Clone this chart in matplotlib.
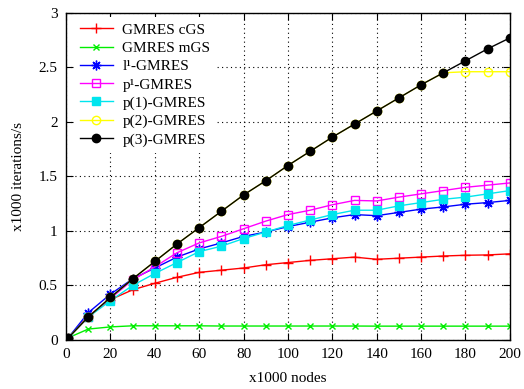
import matplotlib
matplotlib.use("Agg")
import matplotlib.pyplot as plt

nodes = [1, 10, 20, 30, 40, 50, 60, 70, 80, 90, 100, 110, 120, 130, 140, 150, 160, 170, 180, 190, 200]

gmres_cgs = [0.02, 0.22, 0.37, 0.46, 0.52, 0.575, 0.62, 0.64, 0.66, 0.69, 0.71, 0.73, 0.745, 0.76, 0.74, 0.75, 0.76, 0.77, 0.777, 0.78, 0.79]
gmres_mgs = [0.02, 0.10, 0.12, 0.13, 0.13, 0.13, 0.13, 0.128, 0.128, 0.128, 0.128, 0.128, 0.128, 0.128, 0.127, 0.127, 0.127, 0.127, 0.127, 0.127, 0.127]
l1_gmres = [0.02, 0.25, 0.42, 0.56, 0.66, 0.76, 0.835, 0.89, 0.95, 0.99, 1.04, 1.08, 1.12, 1.15, 1.14, 1.17, 1.20, 1.22, 1.245, 1.26, 1.28]
p1_gmres = [0.02, 0.21, 0.38, 0.55, 0.67, 0.80, 0.89, 0.95, 1.02, 1.09, 1.15, 1.19, 1.24, 1.28, 1.275, 1.31, 1.34, 1.37, 1.40, 1.42, 1.44]
p_1_gmres = [0.02, 0.21, 0.36, 0.50, 0.61, 0.71, 0.81, 0.86, 0.93, 0.99, 1.05, 1.10, 1.15, 1.19, 1.19, 1.23, 1.26, 1.29, 1.31, 1.34, 1.37]
p_2_gmres = [0.02, 0.21, 0.39, 0.56, 0.72, 0.88, 1.03, 1.18, 1.33, 1.46, 1.60, 1.73, 1.86, 1.98, 2.10, 2.22, 2.34, 2.45, 2.46, 2.46, 2.46]
p_3_gmres = [0.02, 0.21, 0.39, 0.56, 0.72, 0.88, 1.03, 1.18, 1.33, 1.46, 1.60, 1.73, 1.86, 1.98, 2.10, 2.22, 2.34, 2.45, 2.56, 2.67, 2.77]

labels = ["GMRES cGS", "GMRES mGS", "l\u00b9-GMRES", "p\u00b9-GMRES", "p(1)-GMRES", "p(2)-GMRES", "p(3)-GMRES"]
x_ticks = [0, 20, 40, 60, 80, 100, 120, 140, 160, 180, 200]
y_ticks = [0, 0.5, 1, 1.5, 2, 2.5, 3]
y_tick_labels = ['0', '0.5', '1', '1.5', '2', '2.5', '3']

plt.rcParams['font.family'] = ['Liberation Serif', 'DejaVu Serif']

fig = plt.figure(figsize=(5.24, 3.89), dpi=100)
ax = fig.add_axes([0.126, 0.126, 0.847, 0.841])

series = [gmres_cgs, gmres_mgs, l1_gmres, p1_gmres, p_1_gmres, p_2_gmres, p_3_gmres]
styles = [
    dict(color='#ff0000', marker='+', ms=7, mfc='#ff0000', mew=1.0),
    dict(color='#00ee00', marker='x', ms=5, mfc='#00ee00', mew=1.0),
    dict(color='#0000ff', marker=(8, 2, 0), ms=7, mfc='#0000ff', mew=1.0),
    dict(color='#ff00ff', marker='s', ms=6, mfc='none', mew=1.0),
    dict(color='#00e5ee', marker='s', ms=6, mfc='#00e5ee', mew=1.0),
    dict(color='#ffff00', marker='o', ms=6, mfc='none', mew=1.0),
    dict(color='#000000', marker='o', ms=6, mfc='#000000', mew=1.0),
]
for vals, lab, st in zip(series, labels, styles):
    ax.plot(nodes, vals, label=lab, lw=1.0, **st)

ax.set_xlim(0, 200)
ax.set_ylim(0, 3)
ax.set_xticks(x_ticks)
ax.set_yticks(y_ticks)
ax.set_yticklabels(y_tick_labels)
ax.tick_params(direction='in', top=True, right=True, labelsize=11, length=5, pad=6)
ax.grid(True, color='black', linestyle=(0, (1, 3)), lw=0.8)
for s in ax.spines.values():
    s.set_linewidth(1.0)

ax.set_xlabel('x1000 nodes', fontsize=11, labelpad=8)
ax.set_ylabel('x1000 iterations/s', fontsize=11, labelpad=10)

leg = ax.legend(loc='upper left', frameon=True, fontsize=11, handlelength=2.2,
                labelspacing=0.3, borderaxespad=0.2, handletextpad=0.6,
                borderpad=0.4, bbox_to_anchor=(0.01, 0.997), fancybox=False)
leg.get_frame().set_facecolor('white')
leg.get_frame().set_edgecolor('none')
leg.get_frame().set_alpha(1.0)

fig.savefig('out.png', dpi=100)
